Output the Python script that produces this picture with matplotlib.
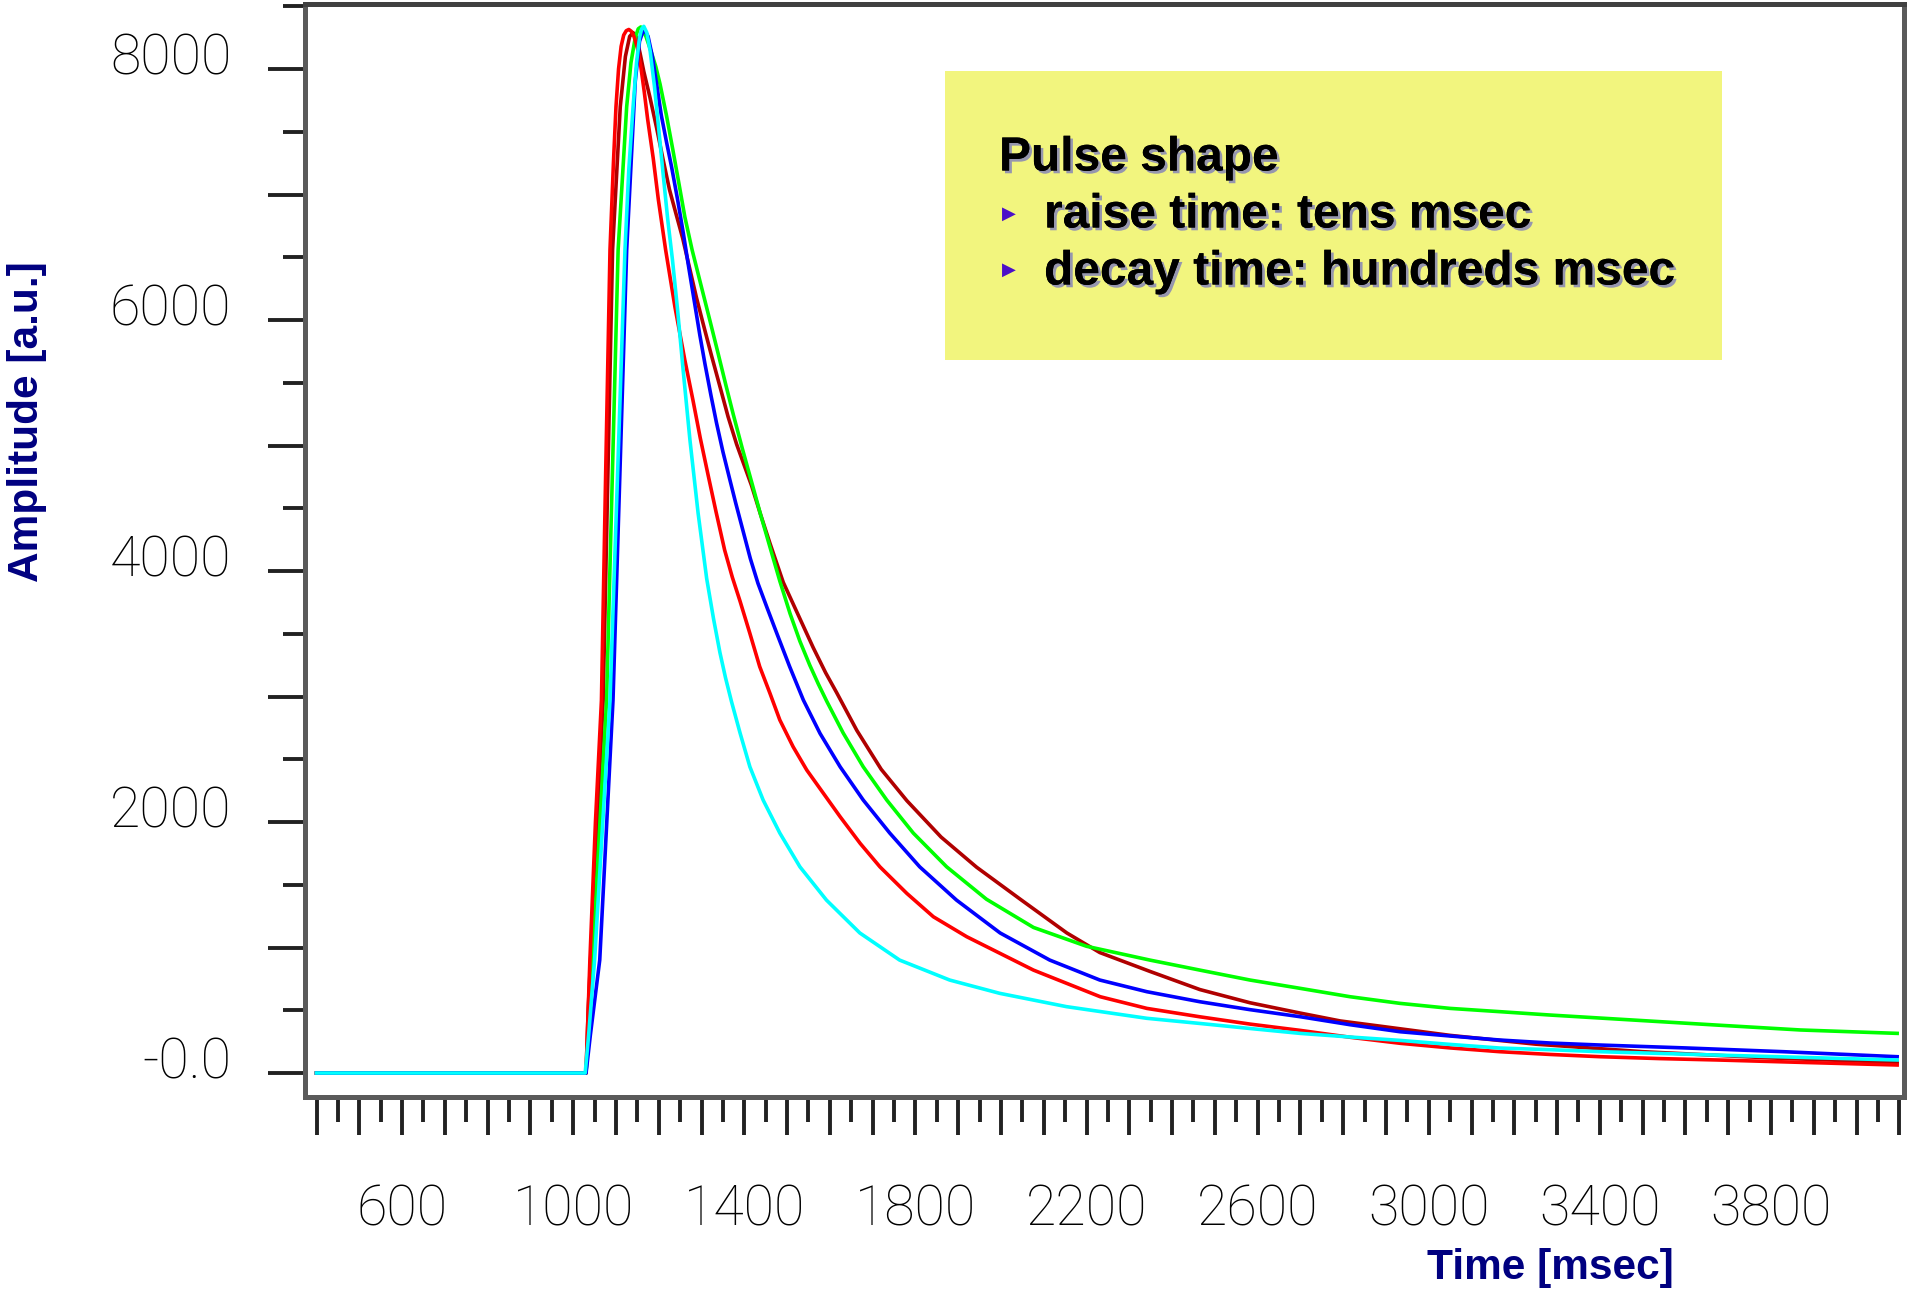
import matplotlib
matplotlib.use("Agg")
import matplotlib.pyplot as plt
import matplotlib.patheffects as pe
import matplotlib.transforms as mtransforms
from matplotlib.patches import Rectangle
from matplotlib.ticker import FixedLocator, FuncFormatter

# pulse data (time in msec, amplitude in a.u.)
red_t = [400, 1030, 1033, 1039, 1052, 1066, 1076, 1086, 1094, 1100, 1106, 1112, 1118, 1124, 1130,
         1136, 1142, 1150, 1158, 1166, 1174, 1187, 1199, 1216, 1238, 1261, 1280, 1297, 1315, 1334,
         1354, 1372, 1390, 1413, 1436, 1460, 1483, 1514, 1546, 1585, 1624, 1671, 1717, 1780, 1842,
         1920, 1998, 2076, 2154, 2232, 2341, 2465, 2582, 2699, 2816, 2933, 3050, 3166, 3284, 3401,
         3540, 3674, 3880, 4095]
red_a = [0, 0, 300, 900, 2000, 2970, 4800, 6560, 7250, 7700, 8000, 8180, 8270, 8305, 8315,
         8300, 8260, 8170, 8020, 7820, 7600, 7290, 6960, 6560, 6100, 5680, 5360, 5060, 4770, 4470,
         4167, 3950, 3760, 3503, 3238, 3025, 2813, 2600, 2414, 2228, 2042, 1829, 1643, 1431, 1245,
         1086, 953, 820, 714, 608, 515, 448, 390, 340, 285, 237, 200, 170, 148, 130,
         115, 104, 84, 64]

darkred_t = [400, 1030, 1035, 1042, 1070, 1092, 1110, 1122, 1132, 1140, 1148, 1156, 1165, 1179, 1195,
             1210, 1225, 1240, 1256, 1273, 1288, 1303, 1323, 1343, 1362, 1382, 1400, 1417, 1438, 1460,
             1491, 1530, 1561, 1590, 1616, 1663, 1720, 1780, 1860, 1943, 2045, 2154, 2231, 2348, 2465,
             2582, 2699, 2793, 2894, 3050, 3250, 3500, 3800, 4095]
darkred_a = [0, 0, 500, 1000, 2970, 6560, 7700, 8100, 8260, 8290, 8250, 8130, 7980, 7780, 7530,
             7280, 7040, 6850, 6650, 6400, 6180, 5980, 5720, 5470, 5230, 5010, 4840, 4680, 4450, 4220,
             3910, 3620, 3390, 3190, 3030, 2730, 2420, 2170, 1880, 1640, 1385, 1116, 960, 810, 665,
             560, 478, 415, 370, 300, 230, 170, 120, 85]

green_t = [400, 1030, 1037, 1045, 1078, 1105, 1125, 1135, 1145, 1152, 1158, 1170, 1182, 1193, 1203,
           1218, 1233, 1247, 1261, 1278, 1300, 1320, 1339, 1357, 1374, 1395, 1417, 1438, 1460, 1483,
           1507, 1530, 1553, 1573, 1593, 1631, 1678, 1733, 1795, 1873, 1966, 2076, 2200, 2348, 2465,
           2582, 2699, 2816, 2933, 3050, 3166, 3284, 3479, 3674, 3869, 4095]
green_a = [0, 0, 400, 900, 2970, 6560, 7700, 8050, 8250, 8320, 8335, 8260, 8140, 8020, 7880,
           7630, 7355, 7090, 6821, 6558, 6260, 5990, 5730, 5480, 5250, 4980, 4710, 4450, 4190, 3920,
           3660, 3440, 3250, 3100, 2960, 2710, 2440, 2175, 1912, 1643, 1385, 1160, 1010, 900, 820,
           741, 675, 608, 555, 515, 489, 462, 422, 382, 343, 316]

blue_t = [400, 1030, 1040, 1062, 1093, 1125, 1145, 1155, 1165, 1175, 1185, 1195, 1206, 1218, 1230,
          1244, 1257, 1270, 1284, 1296, 1308, 1322, 1335, 1350, 1366, 1380, 1397, 1414, 1432, 1454,
          1476, 1506, 1538, 1577, 1624, 1678, 1740, 1810, 1896, 1998, 2114, 2231, 2341, 2465, 2582,
          2699, 2816, 2933, 3050, 3166, 3284, 3401, 3600, 3829, 4095]
blue_a = [0, 0, 300, 900, 2970, 6560, 7900, 8220, 8320, 8260, 8100, 7880, 7630, 7420, 7219,
          6960, 6700, 6420, 6130, 5880, 5650, 5400, 5180, 4950, 4730, 4540, 4320, 4100, 3901, 3700,
          3503, 3238, 2972, 2706, 2440, 2175, 1912, 1643, 1378, 1116, 900, 741, 648, 568, 505,
          449, 385, 329, 295, 263, 239, 223, 200, 170, 130]

cyan_t = [400, 1028, 1036, 1050, 1086, 1104, 1121, 1130, 1140, 1148, 1155, 1160, 1165, 1172, 1180,
          1190, 1200, 1210, 1221, 1232, 1244, 1257, 1273, 1292, 1312, 1328, 1343, 1356, 1370, 1390,
          1413, 1444, 1483, 1530, 1592, 1670, 1763, 1880, 1997, 2153, 2341, 2465, 2582, 2699, 2816,
          2933, 3050, 3166, 3284, 3401, 3674, 3880, 4095]
cyan_a = [0, 0, 300, 900, 2970, 4800, 6560, 7200, 7700, 8050, 8250, 8320, 8340, 8290, 8140,
          7860, 7520, 7170, 6800, 6480, 6080, 5600, 5040, 4460, 3940, 3620, 3350, 3150, 2960, 2710,
          2440, 2175, 1912, 1643, 1378, 1116, 900, 741, 635, 529, 436, 395, 355, 316, 287,
          260, 228, 199, 186, 170, 143, 124, 104]

x_labels = {600: '600', 1000: '1000', 1400: '1400', 1800: '1800', 2200: '2200',
            2600: '2600', 3000: '3000', 3400: '3400', 3800: '3800'}
y_labels = {0: '-0.0', 2000: '2000', 4000: '4000', 6000: '6000', 8000: '8000'}

W, H = 1911, 1291
fig = plt.figure(figsize=(W / 100, H / 100), dpi=100)
ax = fig.add_axes([305 / W, 1 - 1097 / H, (1904 - 305) / W, (1097 - 4) / H])

ax.plot(darkred_t, darkred_a, color='#b00000', lw=2.6)
ax.plot(green_t, green_a, color='#00ff00', lw=2.6)
ax.plot(red_t, red_a, color='#ff0000', lw=2.6)
ax.plot(blue_t, blue_a, color='#0000ff', lw=2.6)
ax.plot(cyan_t, cyan_a, color='#00ffff', lw=2.6)

ax.set_xlim(373, 4111)
ax.set_ylim(-191, 8518)

ax.xaxis.set_major_locator(FixedLocator(range(400, 4101, 100)))
ax.xaxis.set_minor_locator(FixedLocator(range(450, 4101, 100)))
ax.yaxis.set_major_locator(FixedLocator(range(0, 8001, 1000)))
ax.yaxis.set_minor_locator(FixedLocator(range(500, 8501, 1000)))
ax.xaxis.set_major_formatter(FuncFormatter(lambda v, p: x_labels.get(int(round(v)), '')))
ax.yaxis.set_major_formatter(FuncFormatter(lambda v, p: y_labels.get(int(round(v)), '')))

ax.tick_params(axis='x', which='major', length=27, width=2.8, color='#222222', pad=35)
ax.tick_params(axis='x', which='minor', length=18, width=2.8, color='#222222')
ax.tick_params(axis='y', which='major', length=27, width=2.8, color='#222222', pad=26)
ax.tick_params(axis='y', which='minor', length=16, width=2.8, color='#222222')
lift = mtransforms.ScaledTranslation(0, 11 / 72, fig.dpi_scale_trans)
for lab in ax.get_xticklabels() + ax.get_yticklabels():
    lab.set_fontfamily('Roboto')
    lab.set_fontweight('light')
    lab.set_fontsize(40)
for lab in ax.get_yticklabels():
    lab.set_transform(lab.get_transform() + lift)

for s in ax.spines.values():
    s.set_linewidth(3.6)
    s.set_color('#5a5a5a')
ax.spines['top'].set_color('#404040')

# axis titles
fig.text(27 / W, 1 - 422 / H, 'Amplitude [a.u.]', rotation=90, ha='center', va='center',
         family='Liberation Sans', weight='bold', size=30.5, color='#000080')
fig.text(1550 / W, 1 - 1268 / H, 'Time [msec]', ha='center', va='center',
         family='Liberation Sans', weight='bold', size=30.5, color='#000080')

# yellow note box
fig.patches.append(Rectangle((945 / W, 1 - 360 / H), 777 / W, 289 / H, transform=fig.transFigure,
                             facecolor='#f2f57e', edgecolor='none', zorder=5))
shadow = [pe.withSimplePatchShadow(offset=(2, -2), shadow_rgbFace='#8c8cb4', alpha=0.9), pe.Normal()]
fig.text(999 / W, 1 - 158 / H, 'Pulse shape', ha='left', va='center', family='Liberation Sans',
         weight='bold', size=34.5, color='black', path_effects=shadow, zorder=6)
fig.text(1044 / W, 1 - 215 / H, 'raise time: tens msec', ha='left', va='center',
         family='Liberation Sans', weight='bold', size=34.5, color='black', path_effects=shadow, zorder=6)
fig.text(1044 / W, 1 - 272 / H, 'decay time: hundreds msec', ha='left', va='center',
         family='Liberation Sans', weight='bold', size=34.5, color='black', path_effects=shadow, zorder=6)
for yb in (214, 270):
    fig.text(1002 / W, 1 - yb / H, '\u25b6', ha='left', va='center', family='DejaVu Sans',
             size=13, color='#4b0fc8', zorder=6)

fig.savefig('out.png', dpi=100)
